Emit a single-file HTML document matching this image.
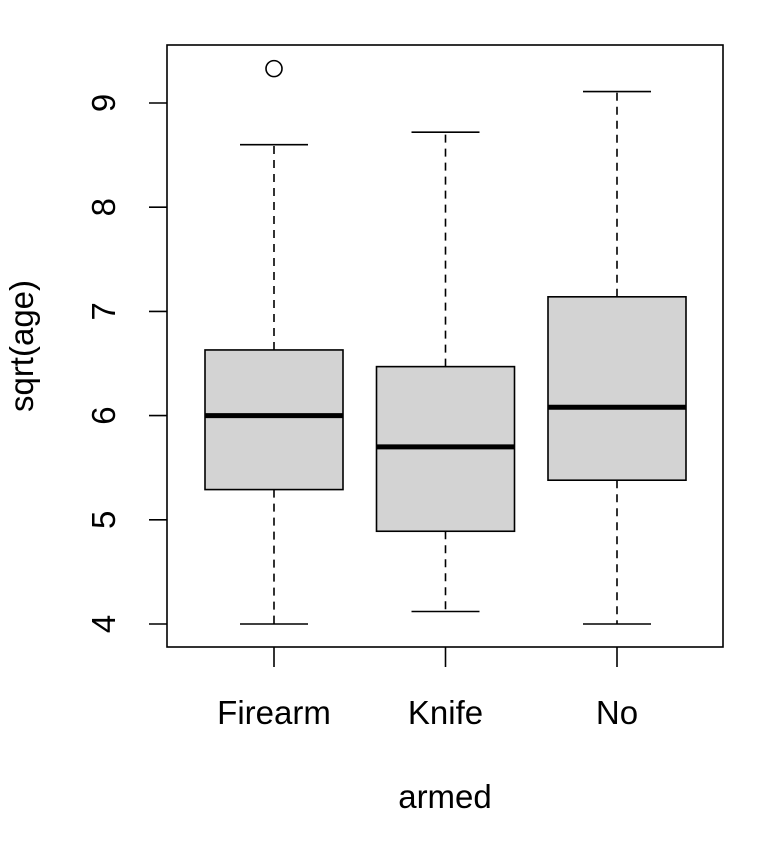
<!DOCTYPE html>
<html><head><meta charset="utf-8"><style>
body{margin:0;background:#fff}
svg text{font-family:"Liberation Sans",sans-serif;font-size:33px;fill:#000}
</style></head><body>
<svg width="762" height="838" id="chart"></svg>
<script>
const categories=["Firearm","Knife","No"];
const lowWhisker=[4.0,4.12,4.0];
const q1=[5.29,4.89,5.38];
const medians=[6.0,5.7,6.08];
const q3=[6.63,6.47,7.14];
const highWhisker=[8.6,8.72,9.11];
const outliers=[[9.33],[],[]];
const yTicks=[4,5,6,7,8,9];
const ns="http://www.w3.org/2000/svg";
const svg=document.getElementById('chart');
const L=167,R=723,T=45,B=647;
function y(v){return 624-(v-4)*104.2;}
function x(i){return 274+i*171.5;}
function mk(t,a,p){const e=document.createElementNS(ns,t);for(const k in a)e.setAttribute(k,a[k]);(p||svg).appendChild(e);return e;}
categories.forEach((c,i)=>{
 const g=mk('g',{});
 
 
 const cx=x(i),hw=69,cw=34;
 mk('line',{x1:cx,x2:cx,y1:y(q3[i]),y2:y(highWhisker[i]),stroke:'#000','stroke-width':1.6,'stroke-dasharray':'8,6'},g);
 mk('line',{x1:cx,x2:cx,y1:y(q1[i]),y2:y(lowWhisker[i]),stroke:'#000','stroke-width':1.6,'stroke-dasharray':'8,6'},g);
 mk('line',{x1:cx-cw,x2:cx+cw,y1:y(highWhisker[i]),y2:y(highWhisker[i]),stroke:'#000','stroke-width':1.6},g);
 mk('line',{x1:cx-cw,x2:cx+cw,y1:y(lowWhisker[i]),y2:y(lowWhisker[i]),stroke:'#000','stroke-width':1.6},g);
 mk('rect',{x:cx-hw,y:y(q3[i]),width:2*hw,height:y(q1[i])-y(q3[i]),fill:'#d3d3d3',stroke:'#000','stroke-width':1.6},g);
 mk('line',{x1:cx-hw,x2:cx+hw,y1:y(medians[i]),y2:y(medians[i]),stroke:'#000','stroke-width':5},g);
 outliers[i].forEach(o=>{const c2=mk('circle',{cx:cx,cy:y(o),r:8,fill:'none',stroke:'#000','stroke-width':1.6},g);
  
  });
 mk('line',{x1:cx,x2:cx,y1:B,y2:B+20,stroke:'#000','stroke-width':1.6});
 const t=mk('text',{x:cx,y:724,'text-anchor':'middle'});t.textContent=c;
 
 
});
const frame=mk('rect',{x:L,y:T,width:R-L,height:B-T,fill:'none',stroke:'#000','stroke-width':1.6});


yTicks.forEach(v=>{
 mk('line',{x1:L-18,x2:L,y1:y(v),y2:y(v),stroke:'#000','stroke-width':1.6});
 const t=mk('text',{x:0,y:0,'text-anchor':'middle',transform:`translate(115,${y(v)}) rotate(-90)`});t.textContent=v;
 
 
});
const xt=mk('text',{x:445,y:808,'text-anchor':'middle'});xt.textContent='armed';


const yt=mk('text',{x:0,y:0,'text-anchor':'middle',transform:'translate(33,346) rotate(-90)'});yt.textContent='sqrt(age)';


</script>
</body></html>
